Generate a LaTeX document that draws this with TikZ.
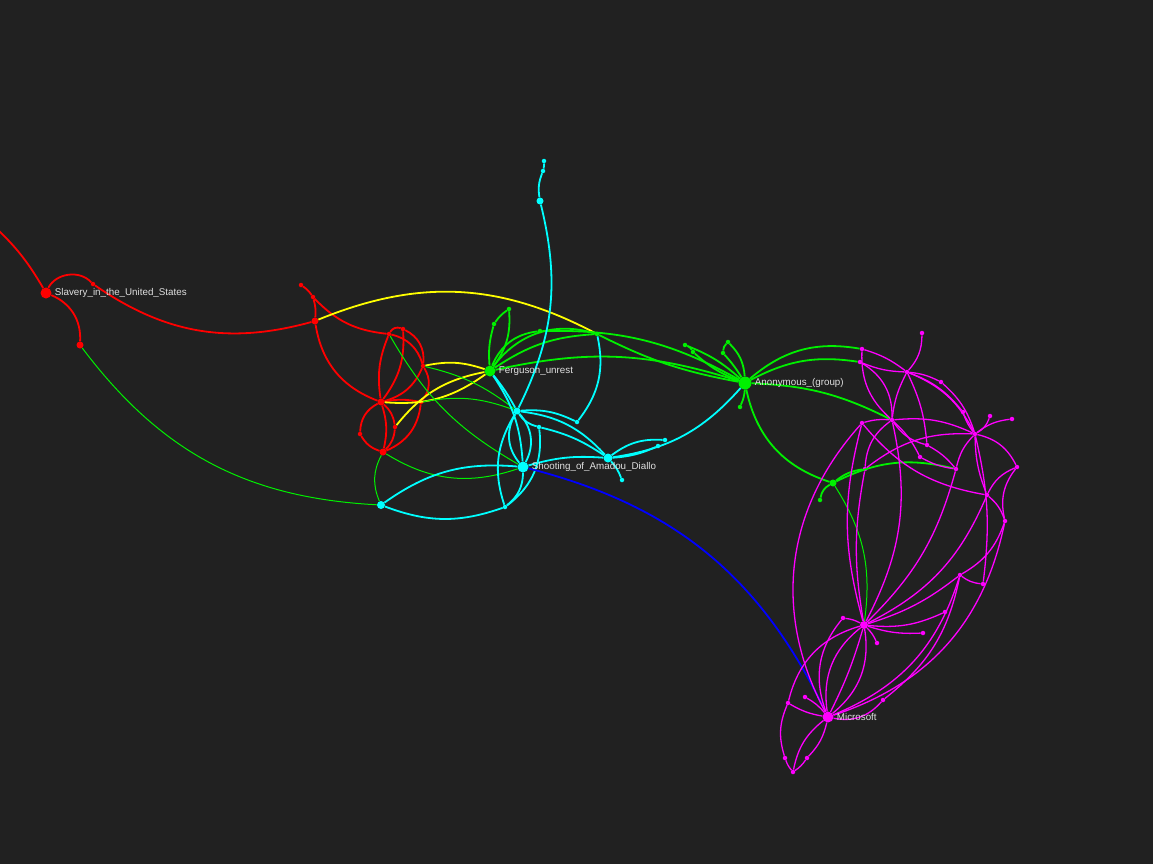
\documentclass[tikz,border=0pt]{standalone}
\usepackage{fontspec}
\setmainfont{Liberation Sans}
\usepackage{tikz}
\usetikzlibrary{positioning}
\definecolor{bgcol}{HTML}{212121}
\definecolor{lblcol}{HTML}{E0E0E0}
\definecolor{gcol}{HTML}{00F000}
\definecolor{ccol}{HTML}{00FFFF}
\definecolor{mcol}{HTML}{FF00FF}
\definecolor{ycol}{HTML}{FFFF00}
\definecolor{bcol}{HTML}{0000FF}

\begin{document}
\begin{tikzpicture}[x=1pt, y=-1pt,
    dot/.style={circle, fill, inner sep=0pt, minimum size=7pt},
    tiny/.style={circle, fill, inner sep=0pt, minimum size=4.5pt},
    hub/.style={circle, fill, inner sep=0pt, minimum size=11pt},
    lbl/.style={text=lblcol, font=\fontsize{9.8}{11}\selectfont, anchor=west, inner sep=1pt},
    edge/.style={line width=1.8pt},
    thinedge/.style={line width=1pt}]
        % 0. Background and frame
        \fill[bgcol] (0,0) rectangle (1153,864);
        \useasboundingbox (0,0) rectangle (1153,864);
        \clip (0,0) rectangle (1153,864);

        % 1. Red nodes
        \coordinate (rin) at (-6,226);
        \node[hub, red] (slav) at (46,293) {};
        \node[dot, red] (r1) at (80,345) {};
        \node[tiny, red] (r2) at (93,284) {};
        \node[dot, red] (r3) at (315,321) {};
        \node[tiny, red] (r4) at (313,297) {};
        \node[tiny, red] (r5) at (301,285) {};
        \node[tiny, red] (r6) at (389,334) {};
        \node[tiny, red] (r7) at (403,329) {};
        \node[tiny, red] (r8) at (423,366) {};
        \node[dot, red] (r9) at (381,402) {};
        \node[tiny, red] (r10) at (421,402) {};
        \node[tiny, red] (r11) at (360,434) {};
        \node[dot, red] (r12) at (383,452) {};
        \node[tiny, red] (r13) at (395,427) {};

        % 2. Green nodes
        \node[hub, gcol] (ferg) at (490,371) {};
        \node[tiny, gcol] (g1) at (509,309) {};
        \node[tiny, gcol] (g2) at (494,324) {};
        \node[tiny, gcol] (g3) at (540,331) {};
        \node[tiny, gcol] (g4) at (597,334) {};
        \node[hub, gcol, minimum size=13pt] (anon) at (745,383) {};
        \node[tiny, gcol] (g5) at (685,345) {};
        \node[tiny, gcol] (g6) at (728,342) {};
        \node[tiny, gcol] (g7) at (693,352) {};
        \node[tiny, gcol] (g8) at (723,353) {};
        \node[tiny, gcol] (g9) at (740,407) {};
        \node[dot, gcol] (g10) at (833,483) {};
        \node[tiny, gcol] (g11) at (820,500) {};

        % 3. Cyan nodes
        \node[tiny, ccol] (c1) at (544,161) {};
        \node[tiny, ccol] (c2) at (543,171) {};
        \node[dot, ccol] (c3) at (540,201) {};
        \node[dot, ccol] (c4) at (517,411) {};
        \node[hub, ccol] (shoot) at (523,467) {};
        \node[dot, ccol, minimum size=8pt] (c5) at (381,505) {};
        \node[tiny, ccol] (c6) at (505,507) {};
        \node[tiny, ccol] (c7) at (539,427) {};
        \node[tiny, ccol] (c8) at (577,422) {};
        \node[dot, ccol, minimum size=9pt] (c9) at (608,458) {};
        \node[tiny, ccol] (c10) at (665,440) {};
        \node[tiny, ccol] (c11) at (658,446) {};
        \node[tiny, ccol] (c12) at (622,480) {};

        % 4. Magenta nodes
        \foreach \n/\x/\y in {m1/862/349, m2/860/362, m3/907/372, m4/922/333, m5/941/382,
            m6/892/420, m7/862/423, m8/927/445, m9/920/457, m10/963/412, m11/990/416,
            m12/1012/419, m13/975/434, m14/1017/467, m15/956/469, m16/865/469, m17/987/495,
            m18/1005/521, m19/960/575, m20/983/584, m21/843/618, m22/877/643, m23/923/633,
            m24/945/612, m25/883/700, m26/793/772, m27/785/758, m28/788/703, m29/805/697,
            m30/807/758}
            \node[tiny, mcol] (\n) at (\x,\y) {};
        \node[dot, mcol, minimum size=8pt] (hubm) at (864,625) {};
        \node[hub, mcol] (msft) at (828,717) {};

        % 5. Red edges (bend > 0 is left, < 0 is right)
        \foreach \a/\b/\bd in {rin/slav/8, slav/r1/35, slav/r2/55,
            r2/r3/-25, r5/r4/10, r4/r3/10, r4/r6/-20,
            r6/r8/30, r7/r8/35, r6/r7/40, r3/r9/-30,
            r8/r9/25, r6/r9/-15, r9/r10/10, r10/r8/-35,
            r9/r11/-30, r11/r12/-20, r9/r12/15, r9/r13/20,
            r13/r12/20, r10/r12/30, r7/r9/20}
            \draw[edge, red] (\a) to[bend left=\bd] (\b);

        % 6. Yellow edges
        \foreach \a/\b/\bd in {r3/g4/25, r8/ferg/15, r9/ferg/-20, r13/ferg/20}
            \draw[edge, ycol] (\a) to[bend left=\bd] (\b);

        % 7. Green edges (thin ones first)
        \foreach \a/\b/\bd in {r1/c5/-25, r6/shoot/-15, r8/c4/12,
            r10/c4/15, r12/c5/-25, r12/shoot/-25, g10/hubm/20}
            \draw[thinedge, gcol] (\a) to[bend left=\bd] (\b);
        \foreach \a/\b/\bd in {ferg/g2/10, g2/g1/10, ferg/g1/-20,
            ferg/g4/35, ferg/g4/15, ferg/g3/30, g3/anon/15,
            g4/anon/-8, ferg/anon/15, anon/g5/-10, anon/g6/-20,
            anon/g7/10, anon/g8/-5, g5/g7/20, g6/g8/-20,
            anon/g9/10, anon/m1/25, anon/m2/18, anon/m6/12,
            anon/g10/-30, g10/g11/-25, g10/m15/20, g10/m16/15}
            \draw[edge, gcol] (\a) to[bend left=\bd] (\b);

        % 8. Cyan edges
        \foreach \a/\b/\bd in {c1/c2/10, c2/c3/-15, c3/c4/20,
            ferg/c4/5, ferg/shoot/15, c4/shoot/35, c4/shoot/-35,
            c4/c7/-20, c4/c8/15, c4/c9/20, c7/c9/10,
            shoot/c9/10, c9/anon/-20, c9/c10/20, c9/c11/-10,
            c9/c12/10, c5/shoot/20, c5/c6/-20, c6/shoot/-25,
            c6/c4/25, g4/c8/25, c6/c7/-30}
            \draw[edge, ccol] (\a) to[bend left=\bd] (\b);

        % 9. Blue edge
        \draw[edge, bcol] (shoot) to[bend left=25] (msft);

        % 10. Magenta edges
        \foreach \a/\b/\bd in {hubm/msft/30, hubm/msft/-30, hubm/msft/5,
            hubm/m21/-10, hubm/m22/10, hubm/m23/-10, hubm/m24/-15,
            msft/m25/-30, m25/m19/-20, msft/m26/-20, m26/m27/10,
            m27/m28/20, msft/m28/10, msft/m29/-10, msft/m30/15,
            m30/m26/10, hubm/m7/15, msft/m7/35, hubm/m16/10,
            hubm/m6/-20, hubm/m15/-15, hubm/m19/-10, hubm/m17/-20,
            msft/m19/-25, msft/m18/-30, msft/m21/30, hubm/m28/-30,
            m1/m3/10, m2/m3/-10, m4/m3/20, m3/m5/10,
            m3/m6/-10, m3/m10/15, m3/m13/20, m6/m7/-10,
            m6/m9/10, m6/m13/15, m6/m8/-20, m6/m1/25,
            m5/m13/15, m10/m13/-10, m11/m13/20, m12/m13/-15,
            m13/m14/25, m13/m17/-10, m13/m15/-15, m14/m17/-20,
            m17/m18/15, m13/m20/10, m18/m19/20, m19/m20/-15,
            m8/m15/10, m9/m15/-10, m16/m13/20, m7/m17/-20,
            m14/m18/-25, m2/m6/30, m3/m8/10, m6/m16/-25}
            \draw[line width=1.3pt, mcol] (\a) to[bend left=\bd] (\b);

        % 11. Labels
        \node[lbl, right=2pt of slav] (slavlbl) {Slavery\_in\_the\_United\_States};
        \node[lbl, right=2pt of ferg] (ferglbl) {Ferguson\_unrest};
        \node[lbl, right=2pt of shoot] (shootlbl) {Shooting\_of\_Amadou\_Diallo};
        \node[lbl, right=2pt of anon] (anonlbl) {Anonymous\_(group)};
        \node[lbl, right=2pt of msft] (msftlbl) {Microsoft};
    \end{tikzpicture}
\end{document}
